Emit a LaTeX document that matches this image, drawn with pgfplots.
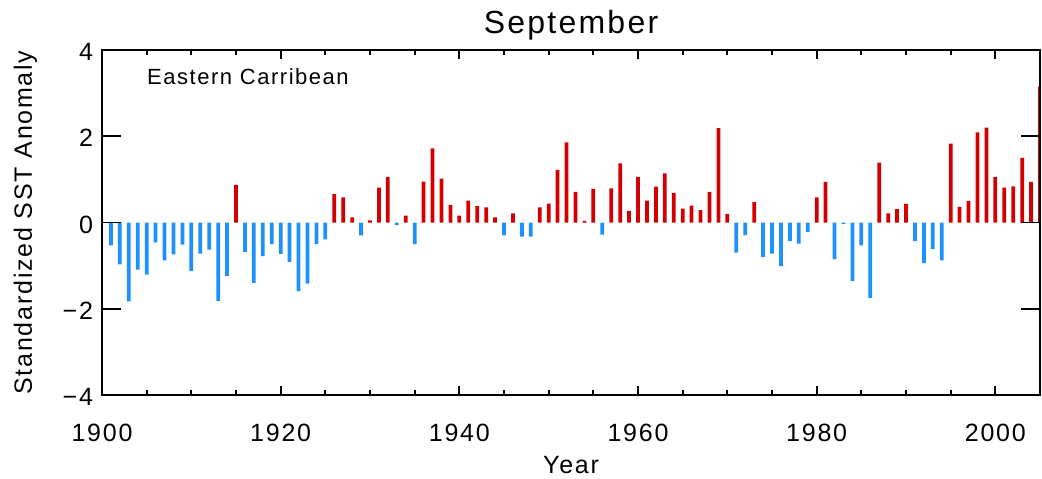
\documentclass[border=0pt]{standalone}
\usepackage{pgfplots}
\pgfplotsset{compat=1.18}
\usepackage{fontspec}
\setmainfont{Liberation Sans}[LetterSpace=7]
\definecolor{warm}{RGB}{210,0,0}
\definecolor{cool}{RGB}{30,144,255}

\begin{document}
\begin{tikzpicture}
\useasboundingbox (-51pt,-41.5pt) rectangle (470pt,197.5pt);
\begin{axis}[
  at={(0,0)}, anchor=south west,
  scale only axis, width=469pt, height=172.5pt,
  xmin=1900, xmax=2005, ymin=-4, ymax=4,
  ybar, bar width=0.42, bar shift=0pt,
  axis line style={line width=1pt},
  every tick/.style={black, line width=0.9pt},
  tick align=inside,
  xtick={1900,1920,1940,1960,1980,2000},
  xticklabels={1900,1920,1940,1960,1980,2000},
  minor x tick num=3,
  xtick style={/pgfplots/major tick length=4.5pt, /pgfplots/minor tick length=2.5pt},
  ytick={-4,-2,0,2,4},
  yticklabels={−4,−2,0,2,4},
  ytick style={/pgfplots/major tick length=9.5pt},
  tick label style={font=\fontsize{12.5}{15}\selectfont},
  xticklabel style={anchor=base, yshift=-23pt},
  yticklabel style={anchor=east, xshift=-1pt, yshift=-1pt},
  title={September},
  title style={at={(axis description cs:0.5,1)}, anchor=base, yshift=2.5pt,
    font=\fontsize{16}{19}\selectfont},
  xlabel={Year},
  xlabel style={at={(axis description cs:0.5,0)}, anchor=base, yshift=-39pt,
    font=\fontsize{12.5}{15}\selectfont},
  ylabel={Standardized SST Anomaly},
  ylabel style={at={(axis description cs:0,0.5)}, anchor=base, yshift=35pt,
    font=\fontsize{12.5}{15}\selectfont},
  axis on top,
]
% positive anomalies
\addplot[draw=none, fill=warm] coordinates {
  (1915,0.87) (1926,0.66) (1927,0.58) (1928,0.12) (1930,0.05) (1931,0.81)
  (1932,1.05) (1934,0.16) (1936,0.95) (1937,1.72) (1938,1.02) (1939,0.41)
  (1940,0.16) (1941,0.51) (1942,0.38) (1943,0.35) (1944,0.12) (1946,0.21)
  (1949,0.35) (1950,0.44) (1951,1.22) (1952,1.86) (1953,0.71) (1954,0.04)
  (1955,0.78) (1957,0.79) (1958,1.37) (1959,0.27) (1960,1.06) (1961,0.51)
  (1962,0.83) (1963,1.14) (1964,0.69) (1965,0.32) (1966,0.39) (1967,0.29)
  (1968,0.71) (1969,2.19) (1970,0.20) (1973,0.47) (1980,0.58) (1981,0.94)
  (1987,1.39) (1988,0.21) (1989,0.31) (1990,0.43) (1995,1.83) (1996,0.36)
  (1997,0.50) (1998,2.09) (1999,2.20) (2000,1.06) (2001,0.81) (2002,0.84)
  (2003,1.50) (2004,0.94) (2005,3.15)
};
% negative anomalies
\addplot[draw=none, fill=cool] coordinates {
  (1901,-0.53) (1902,-0.97) (1903,-1.83) (1904,-1.09) (1905,-1.21) (1906,-0.46)
  (1907,-0.88) (1908,-0.74) (1909,-0.51) (1910,-1.12) (1911,-0.72) (1912,-0.63)
  (1913,-1.82) (1914,-1.24) (1916,-0.68) (1917,-1.40) (1918,-0.78) (1919,-0.50)
  (1920,-0.73) (1921,-0.91) (1922,-1.59) (1923,-1.42) (1924,-0.50) (1925,-0.39)
  (1929,-0.30) (1933,-0.06) (1935,-0.50) (1945,-0.29) (1947,-0.33) (1948,-0.33)
  (1956,-0.28) (1971,-0.70) (1972,-0.29) (1974,-0.80) (1975,-0.72) (1976,-1.01)
  (1977,-0.43) (1978,-0.49) (1979,-0.22) (1982,-0.85) (1983,-0.03) (1984,-1.36)
  (1985,-0.53) (1986,-1.75) (1991,-0.43) (1992,-0.94) (1993,-0.62) (1994,-0.88)
};
\node[anchor=base west, inner sep=0pt, font=\fontsize{11}{13}\selectfont]
  at (axis description cs:0.0477,0.8986) {Eastern Carribean};
\end{axis}
\end{tikzpicture}
\end{document}
